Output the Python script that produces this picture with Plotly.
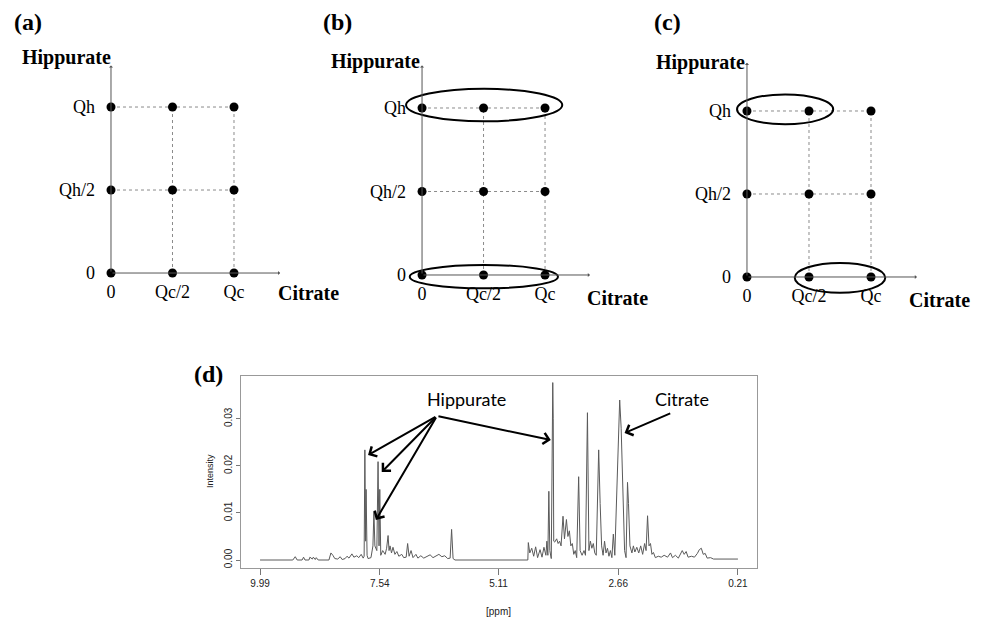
import plotly.graph_objects as go

# ---------------- data: experimental design (panels a-c) ----------------
conc_levels = [0, 1, 2]
citrate_ticks = ["0", "Qc/2", "Qc"]
hippurate_ticks = ["0", "Qh/2", "Qh"]
design_citrate = [0, 1, 2, 0, 1, 2, 0, 1, 2]
design_hippurate = [0, 0, 0, 1, 1, 1, 2, 2, 2]
panel_labels = ["(a)", "(b)", "(c)", "(d)"]

# ---------------- data: NMR spectrum (panel d) ----------------
ppm = [9.99, 9.32, 9.27, 9.23, 9.13, 9.10, 9.07, 8.99, 8.97, 8.92, 8.90, 8.86, 8.84, 8.80,
       8.58, 8.54, 8.50, 8.46, 8.40, 8.35, 8.31, 8.25, 8.21, 8.17, 8.11, 8.07, 8.01, 7.97,
       7.92, 7.88, 7.86, 7.845, 7.83, 7.82, 7.80, 7.78, 7.72, 7.68, 7.66, 7.64, 7.60, 7.575,
       7.555, 7.54, 7.52, 7.48, 7.43, 7.40, 7.37, 7.35, 7.33, 7.30, 7.27, 7.23, 7.19, 7.15,
       7.09, 7.05, 7.00, 6.97, 6.94, 6.90, 6.86, 6.80, 6.76, 6.70, 6.64, 6.58, 6.51, 6.45,
       6.39, 6.33, 6.27, 6.21, 6.15, 6.10, 6.07, 6.04, 6.00, 4.51, 4.50, 4.47, 4.43, 4.39,
       4.35, 4.31, 4.26, 4.22, 4.18, 4.14, 4.12, 4.10, 4.08, 4.06, 4.03, 4.00, 3.99, 3.98,
       3.96, 3.92, 3.89, 3.86, 3.83, 3.79, 3.76, 3.72, 3.69, 3.66, 3.63, 3.60, 3.57, 3.54,
       3.51, 3.47, 3.44, 3.40, 3.36, 3.33, 3.29, 3.26, 3.23, 3.20, 3.17, 3.14, 3.11, 3.06,
       3.03, 3.00, 2.97, 2.94, 2.91, 2.88, 2.85, 2.82, 2.79, 2.76, 2.73, 2.70, 2.67, 2.63,
       2.60, 2.56, 2.53, 2.50, 2.47, 2.45, 2.42, 2.38, 2.35, 2.32, 2.28, 2.24, 2.20, 2.16,
       2.12, 2.09, 2.06, 2.03, 2.00, 1.97, 1.94, 1.90, 1.84, 1.78, 1.72, 1.65, 1.59, 1.55,
       1.49, 1.43, 1.39, 1.35, 1.31, 1.27, 1.23, 1.16, 1.10, 1.04, 1.00, 0.96, 0.92, 0.88,
       0.84, 0.77, 0.71, 0.58, 0.21]
intensity = [0.0, 0.0, 0.0007, 0.0, 0.0, 0.0006, 0.0, 0.0, 0.0006, 0.0002, 0.0006, 0.0001, 0.0005, 0.0,
             0.0, 0.0015, 0.001, 0.0003, 0.0002, 0.0007, 0.0001, 0.0003, 0.0008, 0.0004, 0.0013, 0.0006, 0.0009, 0.0005,
             0.0012, 0.0004, 0.0008, 0.0234, 0.004, 0.015, 0.001, 0.0003, 0.0005, 0.003, 0.0103, 0.003, 0.002, 0.0209,
             0.003, 0.015, 0.001, 0.002, 0.0012, 0.0025, 0.0052, 0.002, 0.003, 0.0015, 0.0027, 0.0012, 0.0018, 0.0008,
             0.0012, 0.0005, 0.0006, 0.0035, 0.0008, 0.002, 0.0005, 0.0012, 0.0004, 0.0009, 0.0004, 0.0008, 0.0011, 0.0005,
             0.0009, 0.0012, 0.0007, 0.0009, 0.0003, 0.0004, 0.0065, 0.0003, 0.0, 0.0, 0.0037, 0.0015, 0.0025, 0.0008,
             0.0028, 0.0005, 0.0022, 0.0006, 0.0027, 0.001, 0.004, 0.001, 0.0146, 0.002, 0.0003, 0.0377, 0.03, 0.004,
             0.0038, 0.0045, 0.0035, 0.004, 0.003, 0.0093, 0.0045, 0.0086, 0.005, 0.0062, 0.003, 0.0035, 0.0012, 0.002,
             0.0005, 0.0177, 0.002, 0.001, 0.002, 0.001, 0.0313, 0.002, 0.004, 0.0025, 0.0035, 0.0015, 0.001, 0.0234,
             0.012, 0.003, 0.001, 0.004, 0.0015, 0.0025, 0.0008, 0.002, 0.0005, 0.0055, 0.001, 0.012, 0.02, 0.034,
             0.028, 0.015, 0.002, 0.0005, 0.0165, 0.012, 0.003, 0.0015, 0.003, 0.0017, 0.0027, 0.0015, 0.003, 0.0012,
             0.0035, 0.002, 0.0094, 0.003, 0.0035, 0.0012, 0.0016, 0.0005, 0.0008, 0.0006, 0.001, 0.0006, 0.0015, 0.0005,
             0.001, 0.0004, 0.0012, 0.002, 0.0012, 0.0018, 0.0006, 0.0008, 0.0006, 0.0014, 0.0022, 0.0025, 0.0012, 0.0014,
             0.0004, 0.0005, 0.0002, 0.0002, 0.0002]
ppm_ticks = [9.99, 7.54, 5.11, 2.66, 0.21]
ppm_ticktext = ["9.99", "7.54", "5.11", "2.66", "0.21"]
intensity_ticks = [0.0, 0.01, 0.02, 0.03]
intensity_ticktext = ["0.00", "0.01", "0.02", "0.03"]

W, H = 984, 620
def px(x):
    return x / W
def py(y):
    return 1 - y / H

SERIF = "Liberation Serif"
fig = go.Figure()

# ---------------- panels a-c ----------------
panels = [
    dict(xd=[0.0753, 0.3003], yd=[0.5061, 0.9211], xpos=py(273), ypos=px(111), xend=2.75, yend=2.5),
    dict(xd=[0.3914, 0.6164], yd=[0.5026, 0.9201], xpos=py(275), ypos=px(422), xend=2.73, yend=2.51),
    dict(xd=[0.7213, 0.9482], yd=[0.4997, 0.9147], xpos=py(277), ypos=px(747), xend=2.74, yend=2.58),
]
ellipses = [
    [],
    [dict(x0=-0.26, x1=2.28, y0=1.84, y1=2.23), dict(x0=-0.2, x1=2.21, y0=-0.16, y1=0.12)],
    [dict(x0=-0.16, x1=1.39, y0=1.84, y1=2.2), dict(x0=0.77, x1=2.23, y0=-0.19, y1=0.17)],
]
annotations = []
shapes = []
for i, p in enumerate(panels):
    sfx = "" if i == 0 else str(i + 1)
    xa, ya = "x" + sfx, "y" + sfx
    # dotted guide lines through the design points
    for lvl in conc_levels[1:]:
        fig.add_trace(go.Scatter(x=conc_levels, y=[lvl] * len(conc_levels), xaxis=xa, yaxis=ya,
                                 mode="lines", line=dict(color="#8a8a8a", width=1, dash="dot"),
                                 hoverinfo="skip", showlegend=False))
        fig.add_trace(go.Scatter(x=[lvl] * len(conc_levels), y=conc_levels, xaxis=xa, yaxis=ya,
                                 mode="lines", line=dict(color="#8a8a8a", width=1, dash="dot"),
                                 hoverinfo="skip", showlegend=False))
    # axis arrows
    annotations.append(dict(x=p["xend"], y=0, ax=0, ay=0, xref=xa, yref=ya, axref=xa, ayref=ya,
                            text="", showarrow=True, arrowhead=1, arrowsize=0.7, arrowwidth=1,
                            arrowcolor="#555"))
    annotations.append(dict(x=0, y=p["yend"], ax=0, ay=0, xref=xa, yref=ya, axref=xa, ayref=ya,
                            text="", showarrow=True, arrowhead=1, arrowsize=0.7, arrowwidth=1,
                            arrowcolor="#555"))
    fig.add_trace(go.Scatter(x=design_citrate, y=design_hippurate, xaxis=xa, yaxis=ya,
                             mode="markers", marker=dict(color="black", size=9),
                             hoverinfo="skip", showlegend=False, cliponaxis=False))
    for e in ellipses[i]:
        shapes.append(dict(type="circle", xref=xa, yref=ya, line=dict(color="black", width=2), **e))
    axis_common = dict(showgrid=False, zeroline=False, showline=False, ticks="",
                       tickfont=dict(family=SERIF, size=18, color="black"), fixedrange=True)
    fig.update_layout(**{
        ("xaxis" + sfx): dict(domain=p["xd"], range=[-0.6, 3.0], anchor="free", position=p["xpos"],
                              tickvals=conc_levels, ticktext=citrate_ticks, ticklabelstandoff=6,
                              **axis_common),
        ("yaxis" + sfx): dict(domain=p["yd"], range=[-0.4, 2.7], anchor="free", position=p["ypos"],
                              tickvals=conc_levels, ticktext=hippurate_ticks, ticklabelstandoff=16,
                              **axis_common),
    })

def label(cx, cy, text, font, **kw):
    d = dict(x=px(cx), y=py(cy), xref="paper", yref="paper", text=text, showarrow=False,
             xanchor="center", yanchor="middle", font=font)
    d.update(kw)
    return d

# axis titles panels a-c
for (cx, cy) in [(66, 58), (375, 61), (700, 63)]:
    annotations.append(label(cx, cy, "<b>Hippurate</b>", dict(family=SERIF, size=20, color="black")))
for (cx, cy) in [(308, 293), (617, 298), (939, 300)]:
    annotations.append(label(cx, cy, "<b>Citrate</b>", dict(family=SERIF, size=20, color="black")))
for lab, (cx, cy) in zip(panel_labels, [(28, 22), (337, 22), (667, 22), (208, 374)]):
    annotations.append(label(cx, cy, "<b>" + lab + "</b>", dict(family=SERIF, size=24, color="black")))

# ---------------- panel d ----------------
fig.add_trace(go.Scatter(x=ppm, y=intensity, xaxis="x4", yaxis="y4", mode="lines",
                         line=dict(color="#5a5a5a", width=1), hoverinfo="skip", showlegend=False))
tick_font = dict(family="Liberation Sans", size=10, color="#222")
fig.update_layout(
    xaxis4=dict(domain=[px(241), px(757)], anchor="y4", range=[10.38, -0.18],
                tickvals=ppm_ticks, ticktext=ppm_ticktext, ticks="outside", ticklen=6,
                tickcolor="#777", showline=True, mirror=True, linecolor="#999", linewidth=1,
                showgrid=False, zeroline=False, tickfont=tick_font),
    yaxis4=dict(domain=[py(568), py(376)], anchor="x4", range=[-0.0017, 0.0391],
                tickvals=intensity_ticks, ticktext=intensity_ticktext, ticks="outside", ticklen=4,
                tickcolor="#777", showline=True, mirror=True, linecolor="#999", linewidth=1,
                showgrid=False, zeroline=False, tickfont=tick_font, tickangle=-90),
)
annotations.append(label(210, 471, "Intensity", dict(family="Liberation Sans", size=9, color="#222"),
                         textangle=-90))
annotations.append(label(498, 611, "[ppm]", dict(family="Liberation Sans", size=10, color="#222")))

LABEL_FONT = dict(family="Lato", size=18, color="black")
annotations.append(dict(x=5.76, y=0.0342, xref="x4", yref="y4", text="Hippurate",
                        showarrow=False, font=LABEL_FONT, xanchor="center", yanchor="middle"))
annotations.append(dict(x=1.36, y=0.0342, xref="x4", yref="y4", text="Citrate",
                        showarrow=False, font=LABEL_FONT, xanchor="center", yanchor="middle"))
hip_tail = (6.37, 0.0306)
for hx, hy in [(7.78, 0.0223), (7.50, 0.0187), (7.62, 0.0085), (4.04, 0.0255)]:
    annotations.append(dict(x=hx, y=hy, ax=hip_tail[0], ay=hip_tail[1], xref="x4", yref="y4",
                            axref="x4", ayref="y4", text="", showarrow=True, arrowhead=4,
                            arrowsize=1.1, arrowwidth=2, arrowcolor="black"))
annotations.append(dict(x=2.53, y=0.027, ax=1.565, ay=0.0313, xref="x4", yref="y4",
                        axref="x4", ayref="y4", text="", showarrow=True, arrowhead=4,
                        arrowsize=1.1, arrowwidth=2, arrowcolor="black"))

fig.update_layout(width=W, height=H, margin=dict(l=0, r=0, t=0, b=0),
                  paper_bgcolor="white", plot_bgcolor="white",
                  annotations=annotations, shapes=shapes, showlegend=False)
fig.write_html("out.html")
